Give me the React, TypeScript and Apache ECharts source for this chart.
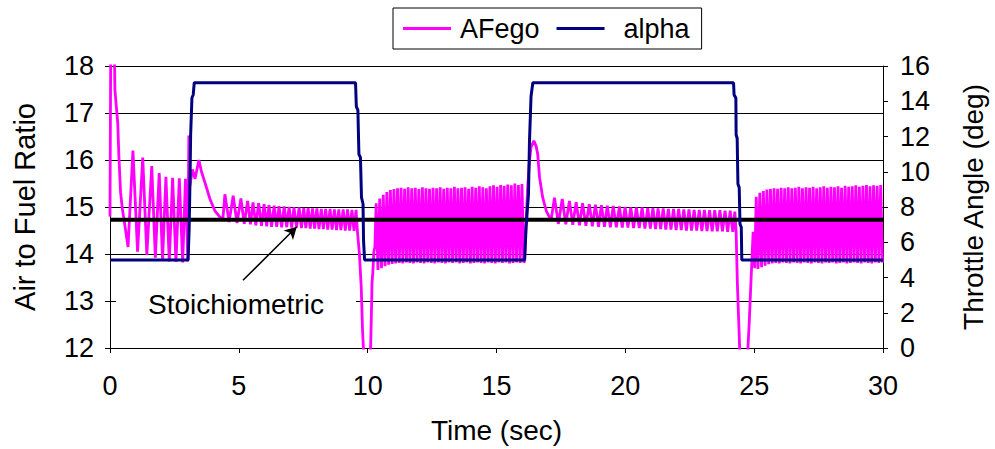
import React, { useEffect, useRef } from "react";
import * as echarts from "echarts";

// ---------- data ----------
const legendNames = ["AFego", "alpha"];
const stoichiometricRatio = 14.73;

// AFego: irregular parts as [time, ratio] pairs
const afegoStart: [number, number][] = [
  [0, 14.8], [0.03, 18.6], [0.17, 18.4], [0.19, 17.49], [0.3, 16.79], [0.345, 16.08],
  [0.41, 15.31], [0.48, 14.96], [0.58, 14.6], [0.7, 14.15], [0.89, 16.2], [1.07, 14.05],
  [1.27, 16.05], [1.43, 13.98], [1.62, 15.87], [1.76, 13.92], [1.91, 15.72], [2.04, 13.87],
  [2.17, 15.64], [2.3, 13.84], [2.43, 15.62], [2.56, 13.83], [2.69, 15.61], [2.82, 13.82],
  [2.93, 15.6], [3.02, 13.84], [3.06, 16.52], [3.1, 15.45], [3.2, 15.8], [3.3, 15.6],
  [3.45, 16.0], [3.55, 15.75], [3.68, 15.53], [3.88, 15.17], [4.07, 14.92], [4.26, 14.79],
  [4.38, 14.74],
];
const afegoPlateau1: [number, number][] = [
  [4.46, 15.27], [4.62, 14.68], [4.78, 15.24], [4.93, 14.66], [5.08, 15.18], [5.21, 14.64],
  [5.34, 15.13], [5.45, 14.63], [5.55, 15.1], [5.66, 14.61], [5.77, 15.08], [5.88, 14.6],
  [5.98, 15.06], [6.08, 14.59], [6.17, 15.04], [6.27, 14.58], [6.37, 15.03], [6.47, 14.58],
  [6.56, 15.02], [6.66, 14.57], [6.76, 15.01], [6.86, 14.57], [6.95, 15.0], [7.05, 14.56],
  [7.14, 14.99], [7.24, 14.56], [7.34, 14.99], [7.43, 14.55], [7.52, 14.98], [7.6, 14.55],
  [7.69, 14.98], [7.77, 14.54], [7.86, 14.97], [7.94, 14.54], [8.03, 14.97], [8.11, 14.53],
  [8.2, 14.96], [8.28, 14.53], [8.37, 14.96], [8.45, 14.52], [8.54, 14.96], [8.62, 14.52],
  [8.71, 14.95], [8.79, 14.51], [8.88, 14.95], [8.96, 14.51], [9.05, 14.95], [9.13, 14.5],
  [9.22, 14.95], [9.3, 14.5], [9.39, 14.94], [9.47, 14.49], [9.55, 14.94], [9.6, 14.5],
];
const afegoDrop1: [number, number][] = [
  [9.68, 14.0], [9.75, 13.3], [9.8, 12.4], [9.86, 11.7], [10.1, 11.7], [10.14, 12.6],
  [10.17, 13.4], [10.2, 13.6], [10.24, 14.05], [10.28, 14.15],
];
// dense oscillation: values sampled every denseStep seconds
const denseStep = 0.069;
const afegoDense1Start = 10.33;
const afegoDense1 = [
  15.08, 13.66, 15.18, 13.7, 15.26, 13.74, 15.32, 13.77, 15.36, 13.79, 15.38, 13.8,
  15.4, 13.81, 15.41, 13.8, 15.39, 13.82, 15.42, 13.81, 15.4, 13.8, 15.41, 13.82,
  15.38, 13.81, 15.42, 13.8, 15.4, 13.82, 15.39, 13.81, 15.41, 13.8, 15.4, 13.82,
  15.42, 13.81, 15.39, 13.8, 15.41, 13.82, 15.4, 13.81, 15.43, 13.82, 15.4, 13.8,
  15.41, 13.81, 15.42, 13.82, 15.39, 13.8, 15.43, 13.81, 15.41, 13.82, 15.44, 13.81,
  15.42, 13.8, 15.4, 13.82, 15.44, 13.81, 15.46, 13.8, 15.43, 13.82, 15.47, 13.81,
  15.45, 13.82, 15.48, 13.8, 15.46, 13.81, 15.5, 13.82, 15.47, 13.81, 15.49, 13.82,
];
const afegoSpike2: [number, number][] = [
  [16.09, 13.85], [16.15, 14.71], [16.21, 15.42], [16.28, 15.98], [16.34, 16.27], [16.45, 16.41],
  [16.54, 16.29], [16.6, 16.12], [16.67, 15.63], [16.79, 15.21], [16.93, 14.92], [17.05, 14.79],
  [17.12, 14.72],
];
const afegoPlateau2: [number, number][] = [
  [17.25, 15.2], [17.4, 14.64], [17.55, 15.17], [17.69, 14.63], [17.83, 15.13], [17.96, 14.62],
  [18.09, 15.1], [18.22, 14.61], [18.34, 15.08], [18.47, 14.6], [18.6, 15.06], [18.72, 14.59],
  [18.84, 15.05], [18.96, 14.58], [19.07, 15.04], [19.19, 14.58], [19.3, 15.03], [19.42, 14.57],
  [19.53, 15.02], [19.65, 14.57], [19.77, 15.01], [19.88, 14.56], [19.99, 15.0], [20.1, 14.56],
  [20.21, 14.99], [20.32, 14.55], [20.43, 14.99], [20.54, 14.55], [20.65, 14.99], [20.76, 14.54],
  [20.87, 14.98], [20.97, 14.54], [21.07, 14.98], [21.17, 14.53], [21.27, 14.97], [21.37, 14.53],
  [21.47, 14.97], [21.57, 14.52], [21.67, 14.96], [21.77, 14.52], [21.87, 14.96], [21.97, 14.51],
  [22.07, 14.96], [22.17, 14.51], [22.27, 14.95], [22.37, 14.5], [22.47, 14.95], [22.57, 14.5],
  [22.67, 14.94], [22.77, 14.5], [22.87, 14.94], [22.97, 14.49], [23.07, 14.94], [23.17, 14.49],
  [23.27, 14.93], [23.37, 14.48], [23.47, 14.93], [23.57, 14.48], [23.67, 14.93], [23.77, 14.48],
  [23.87, 14.92], [23.97, 14.47], [24.07, 14.92], [24.17, 14.47], [24.25, 14.9], [24.3, 14.47],
];
const afegoDrop2: [number, number][] = [
  [24.35, 13.34], [24.45, 11.8], [24.74, 11.8], [24.81, 12.56], [24.87, 13.34], [24.96, 14.47],
  [25.02, 13.7],
];
const afegoDense2Start = 25.08;
const afegoDense2 = [
  15.22, 13.68, 15.3, 13.72, 15.34, 13.75, 15.37, 13.78, 15.38, 13.8, 15.4, 13.81,
  15.39, 13.8, 15.41, 13.82, 15.4, 13.81, 15.42, 13.8, 15.4, 13.82, 15.41, 13.81,
  15.43, 13.8, 15.4, 13.82, 15.42, 13.81, 15.41, 13.8, 15.43, 13.82, 15.4, 13.81,
  15.42, 13.8, 15.44, 13.82, 15.41, 13.81, 15.43, 13.82, 15.42, 13.8, 15.44, 13.81,
  15.41, 13.82, 15.45, 13.8, 15.43, 13.81, 15.44, 13.82, 15.46, 13.81, 15.43, 13.8,
  15.45, 13.82, 15.47, 13.81, 15.44, 13.8, 15.46, 13.82, 15.45, 13.81, 15.47, 13.82,
];

// alpha: throttle angle (deg)
const alphaData: [number, number][] = [
  [0, 5], [3.03, 5], [3.07, 6.67], [3.1, 9.1], [3.13, 12.1], [3.18, 14.2], [3.23, 14.37],
  [3.27, 15.05], [9.53, 15.05], [9.56, 13.7], [9.62, 13.5], [9.66, 11.0], [9.72, 10.8],
  [9.76, 8.55], [9.82, 8.17], [9.84, 6.1], [9.88, 5], [16.09, 5], [16.15, 6.9], [16.24, 8.7],
  [16.28, 11.74], [16.34, 14.27], [16.41, 15.05], [24.2, 15.05], [24.22, 14.37], [24.29, 14.18],
  [24.3, 12.1], [24.34, 11.9], [24.37, 9.3], [24.42, 9.1], [24.45, 7.04], [24.5, 6.85],
  [24.52, 5], [30, 5],
];

// annotation arrow (data coordinates): tail, head
const arrowTail: [number, number] = [5.16, 13.44];
const arrowHead: [number, number] = [7.25, 14.58];

function expand(start: number, step: number, values: number[]): [number, number][] {
  return values.map((v, i) => [+(start + i * step).toFixed(3), v]);
}

export default function App() {
  const ref = useRef<HTMLDivElement>(null);
  useEffect(() => {
    if (!ref.current) return;
    const chart = echarts.init(ref.current, undefined, { renderer: "svg" });
    const afego = [
      ...afegoStart,
      ...afegoPlateau1,
      ...afegoDrop1,
      ...expand(afegoDense1Start, denseStep, afegoDense1),
      ...afegoSpike2,
      ...afegoPlateau2,
      ...afegoDrop2,
      ...expand(afegoDense2Start, denseStep, afegoDense2),
    ];
    const font = "'Liberation Sans', Arial, sans-serif";
    chart.setOption({
      animation: false,
      textStyle: { fontFamily: font },
      grid: { left: 110, right: 110, top: 66, bottom: 99, containLabel: false },
      legend: {
        data: [
          { name: legendNames[0] },
          { name: legendNames[1], textStyle: { padding: [0, 0, 0, 14] } },
        ],
        top: 8,
        left: 393,
        icon: "rect",
        itemWidth: 48,
        itemHeight: 3,
        itemGap: 17,
        padding: [7, 12, 7, 10],
        borderColor: "#000",
        borderWidth: 1,
        backgroundColor: "#fff",
        textStyle: { fontSize: 27, color: "#000", fontFamily: font, padding: [0, 0, 0, 4] },
      },
      xAxis: {
        type: "value",
        min: 0,
        max: 30,
        interval: 5,
        name: "Time (sec)",
        nameLocation: "middle",
        nameGap: 68,
        nameTextStyle: { fontSize: 28, color: "#000", fontFamily: font },
        axisLine: { show: true, lineStyle: { color: "#000", width: 1 } },
        axisTick: { show: true, length: 5, lineStyle: { color: "#000" } },
        axisLabel: { fontSize: 27, color: "#000", margin: 24, fontFamily: font },
        splitLine: { show: false },
      },
      yAxis: [
        {
          type: "value",
          min: 12,
          max: 18,
          interval: 1,
          name: "Air to Fuel Ratio",
          nameLocation: "middle",
          nameGap: 71,
          nameTextStyle: { fontSize: 29, color: "#000", fontFamily: font },
          axisLine: { show: true, lineStyle: { color: "#000", width: 1 } },
          axisTick: { show: true, length: 5, lineStyle: { color: "#000" } },
          axisLabel: { fontSize: 27, color: "#000", margin: 16, fontFamily: font },
          splitLine: { show: true, lineStyle: { color: "#000", width: 1 } },
        },
        {
          type: "value",
          min: 0,
          max: 16,
          interval: 2,
          name: "Throttle Angle (deg)",
          nameLocation: "middle",
          nameGap: 76,
          nameTextStyle: { fontSize: 28, color: "#000", fontFamily: font },
          axisLine: { show: true, lineStyle: { color: "#000", width: 1 } },
          axisTick: { show: true, length: 5, lineStyle: { color: "#000" } },
          axisLabel: { fontSize: 27, color: "#000", margin: 17, fontFamily: font },
          splitLine: { show: false },
        },
      ],
      graphic: [
        {
          type: "rect",
          z: 1,
          shape: { x: 116, y: 287, width: 240, height: 34 },
          style: { fill: "#fff" },
          silent: true,
        },
        {
          type: "text",
          z: 1,
          x: 236,
          y: 304,
          style: {
            text: "Stoichiometric",
            fill: "#000",
            font: `28px ${font}`,
            align: "center",
            verticalAlign: "middle",
          },
          silent: true,
        },
      ],
      series: [
        {
          name: legendNames[0],
          type: "line",
          yAxisIndex: 0,
          data: afego,
          showSymbol: false,
          symbol: "none",
          clip: true,
          lineStyle: { color: "#FF00FF", width: 2.8 },
          itemStyle: { color: "#FF00FF" },
          z: 2,
        },
        {
          name: "Stoichiometric",
          type: "line",
          yAxisIndex: 0,
          data: [[0, stoichiometricRatio], [30, stoichiometricRatio]],
          symbol: "none",
          lineStyle: { color: "#000", width: 4 },
          itemStyle: { color: "#000" },
          z: 3,
          markLine: {
            silent: true,
            symbol: ["none", "arrow"],
            symbolSize: [10, 12],
            label: { show: false },
            lineStyle: { color: "#000", width: 1.5, type: "solid" },
            data: [[{ coord: arrowTail }, { coord: arrowHead }]],
          },
        },
        {
          name: legendNames[1],
          type: "line",
          yAxisIndex: 1,
          data: alphaData,
          symbol: "none",
          lineStyle: { color: "#000080", width: 3 },
          itemStyle: { color: "#000080" },
          z: 4,
        },
      ],
    });
    return () => chart.dispose();
  }, []);
  return (
    <div
      ref={ref}
      style={{ position: "absolute", left: 0, top: 0, width: 995, height: 449, background: "#fff" }}
    />
  );
}
